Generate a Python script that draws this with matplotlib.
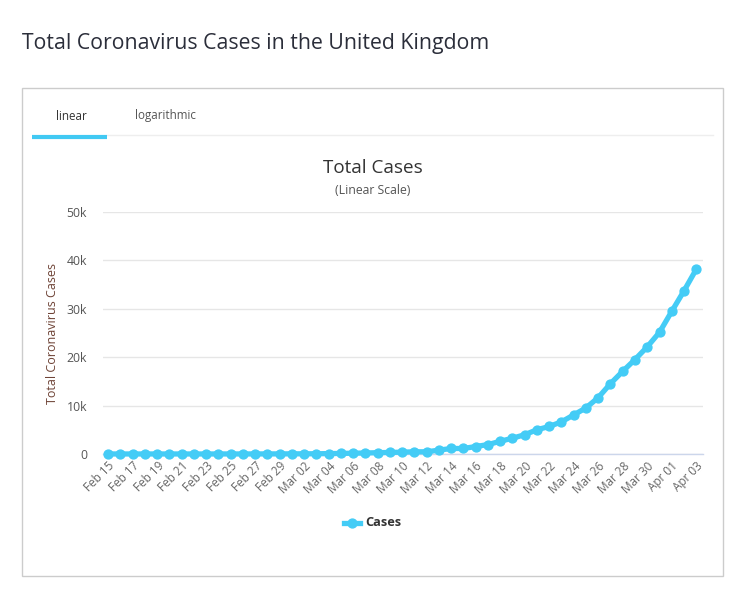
import matplotlib
matplotlib.use("Agg")
import matplotlib.pyplot as plt
from matplotlib.patches import Rectangle
from matplotlib.lines import Line2D
import pandas as pd

plt.rcParams['font.family'] = ['Open Sans', 'DejaVu Sans']

dates = pd.date_range("2020-02-15", "2020-04-03", freq="D")
categories = [d.strftime("%b %d") for d in dates]
cases = [9, 9, 9, 9, 9, 9, 9, 9, 9, 9,
         13, 13, 15, 20, 23,
         36, 40, 51, 85, 115, 163, 206, 273, 321, 382, 456, 456, 798, 1140, 1140,
         1543, 1950, 2626, 3269, 3983, 5018, 5683, 6650, 8077, 9529, 11658, 14543,
         17089, 19522, 22141, 25150,
         29474, 33718, 38168]
y_ticks = [0, 10000, 20000, 30000, 40000, 50000]
y_tick_labels = ["0", "10k", "20k", "30k", "40k", "50k"]

W, H = 736, 600
fig = plt.figure(figsize=(W / 100, H / 100), dpi=100)
fig.patch.set_facecolor("white")

def fx(px):
    return px / W

def fy(py):
    return 1 - py / H

# page title
fig.text(fx(22), fy(43), "Total Coronavirus Cases in the United Kingdom",
         fontsize=15.3, color="#2b2e3a", ha="left", va="center")

# outer box
fig.add_artist(Rectangle((fx(22), fy(576)), fx(723 - 22), (576 - 88) / H,
                         transform=fig.transFigure, fill=False,
                         edgecolor="#cccccc", linewidth=1.0))
# tabs
fig.text(fx(71), fy(116), "linear", fontsize=8.4, color="#333333", ha="center", va="center")
fig.text(fx(165), fy(116), "logarithmic", fontsize=8.4, color="#555555", ha="center", va="center")
fig.add_artist(Line2D([fx(107), fx(713)], [fy(135), fy(135)], transform=fig.transFigure,
                      color="#eeeeee", linewidth=1.0))
fig.add_artist(Line2D([fx(32), fx(107)], [fy(137), fy(137)], transform=fig.transFigure,
                      color="#41c9f3", linewidth=3.0, solid_capstyle="butt"))

# chart titles
fig.text(fx(373), fy(168), "Total Cases", fontsize=13.6, color="#333333", ha="center", va="center")
fig.text(fx(373), fy(191), "(Linear Scale)", fontsize=8.8, color="#555555", ha="center", va="center")

ax = fig.add_axes([fx(103), fy(454), fx(703 - 103), (454 - 212) / H])
x = list(range(len(cases)))
line_color = "#44ccf6"
ax.plot(x, cases, color=line_color, linewidth=3.8, marker="o", markersize=6.4,
        solid_capstyle="round", solid_joinstyle="round", zorder=3, clip_on=False)
ax.set_xlim(-0.42, len(cases) - 1 + 0.55)
ax.set_ylim(0, 50000)
ax.set_yticks(y_ticks)
ax.set_yticklabels(y_tick_labels)
ax.set_xticks(x[::2])
ax.set_xticklabels(categories[::2], rotation=45, ha="right", va="top",
                   rotation_mode="anchor")
ax.tick_params(axis="x", length=0, pad=4, labelsize=8.5, labelcolor="#666666")
ax.tick_params(axis="y", length=0, pad=11.5, labelsize=8.8, labelcolor="#555555")
for s in ["top", "right", "left"]:
    ax.spines[s].set_visible(False)
ax.spines["bottom"].set_color("#ccd6eb")
ax.spines["bottom"].set_linewidth(1.0)
ax.grid(axis="y", color="#e6e6e6", linewidth=1.0)
ax.set_axisbelow(True)
for lab in ax.get_yticklabels():
    lab.set_horizontalalignment("right")

fig.text(fx(53), fy(333), "Total Coronavirus Cases", rotation=90, fontsize=9.0,
         color="#6e4336", ha="center", va="center")

# legend
leg_y = fy(523)
fig.add_artist(Line2D([fx(344), fx(360)], [leg_y, leg_y], transform=fig.transFigure,
                      color=line_color, linewidth=3.8))
fig.add_artist(Line2D([fx(352)], [leg_y], transform=fig.transFigure, color=line_color,
                      marker="o", markersize=6.4, linestyle="none"))
fig.text(fx(365), leg_y, "Cases", fontsize=9.2, fontweight="bold", color="#333333",
         ha="left", va="center")

fig.savefig("out.png", dpi=100, facecolor="white")
